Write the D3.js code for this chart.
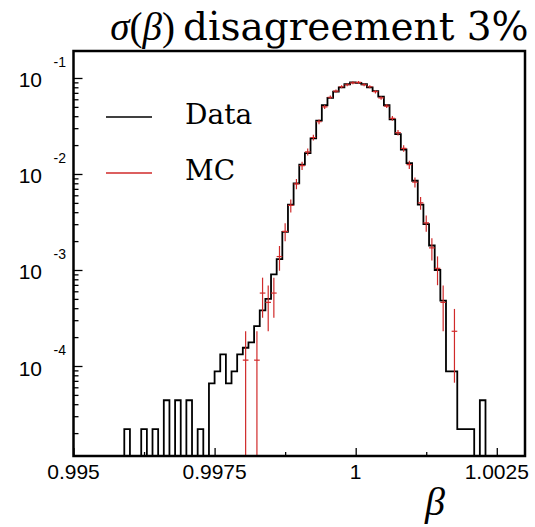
<!DOCTYPE html>
<html><head><meta charset="utf-8">
<script src="https://cdn.jsdelivr.net/npm/d3@7/dist/d3.min.js"></script>
<style>body{margin:0;background:#fff} svg{display:block}</style>
</head><body><svg id="c" width="535" height="527"></svg>
<script>
// ---- data (normalised histograms, 80 bins of width 0.0001 from 0.995) ----
const binLow = 0.995;
const binWidth = 0.0001;
const dataValues = [
  0,0,0,0,0,0,0,0,0,2.2e-5,
  0,0,2.2e-5,0,2.2e-5,0,4.4e-5,0,4.4e-5,0,
  4.4e-5,0,2.2e-5,0,6.6e-5,8.8e-5,1.32e-4,6.6e-5,8.8e-5,1.32e-4,
  1.55e-4,1.76e-4,2.6e-4,3.8e-4,5.0e-4,9.0e-4,1.3e-3,2.5e-3,4.8e-3,8.0e-3,
  1.25e-2,1.65e-2,2.35e-2,3.6e-2,5.2e-2,6.2e-2,7.2e-2,8.0e-2,8.6e-2,9.0e-2,
  8.9e-2,8.6e-2,8.0e-2,7.3e-2,6.4e-2,5.2e-2,3.7e-2,2.6e-2,1.8e-2,1.3e-2,
  8.5e-3,4.8e-3,3.0e-3,1.8e-3,1.0e-3,4.8e-4,8.8e-5,8.8e-5,2.2e-5,2.2e-5,
  2.2e-5,0,4.4e-5,0,0,0,0,0,0,0
];
const mcValues = [
  0,0,0,0,0,0,0,0,0,0,
  0,0,0,0,0,0,0,0,0,0,
  0,0,0,0,0,0,0,0,0,0,
  1.15e-4,0,1.15e-4,5.75e-4,4.6e-4,5.75e-4,1.38e-3,2.53e-3,4.7e-3,7.9e-3,
  1.22e-2,1.7e-2,2.4e-2,3.5e-2,5.0e-2,6.3e-2,7.3e-2,8.1e-2,8.5e-2,8.9e-2,
  9.0e-2,8.5e-2,8.1e-2,7.2e-2,6.2e-2,5.1e-2,3.8e-2,2.7e-2,1.85e-2,1.25e-2,
  8.2e-3,5.0e-3,3.1e-3,1.7e-3,1.04e-3,4.6e-4,0,2.3e-4,0,0,
  0,0,0,0,0,0,0,0,0,0
];
const mcErrors = [
  0,0,0,0,0,0,0,0,0,0,
  0,0,0,0,0,0,0,0,0,0,
  0,0,0,0,0,0,0,0,0,0,
  1.15e-4,0,1.15e-4,2.57e-4,2.3e-4,2.57e-4,3.98e-4,5.39e-4,7.35e-4,9.5e-4,
  1.18e-3,1.40e-3,1.66e-3,2.0e-3,2.4e-3,2.69e-3,2.9e-3,3.05e-3,3.13e-3,3.2e-3,
  3.22e-3,3.13e-3,3.05e-3,2.88e-3,2.67e-3,2.42e-3,2.09e-3,1.76e-3,1.46e-3,1.2e-3,
  9.7e-4,7.6e-4,5.97e-4,4.42e-4,3.46e-4,2.3e-4,0,1.63e-4,0,0,
  0,0,0,0,0,0,0,0,0,0
];
const xMajorTicks = [0.995, 0.9975, 1, 1.0025];
const xTickLabels = ["0.995", "0.9975", "1", "1.0025"];
const xMinorTicks = [0.99625, 0.99875, 1.00125];
const yDecades = [1e-1, 1e-2, 1e-3, 1e-4];
const yExponents = ["-1", "-2", "-3", "-4"];
const legendLabels = ["Data", "MC"];
const titleMath = ["σ", "(", "β", ")"];
const titleText = "disagreement 3%";
const xTitle = "β";

// ---- layout ----
const L = 73.5, R = 525, T = 51, B = 456;
const x = d3.scaleLinear().domain([0.995, 1.003]).range([L, R]);
const y = d3.scaleLog().domain([1.155e-5, 0.191]).range([B, T]);
const yFloor = y.domain()[0];
const svg = d3.select("#c");
const red = "#d02a2a";

svg.append("rect").attr("width", 535).attr("height", 527).attr("fill", "#fff");
svg.append("clipPath").attr("id", "clip").append("rect")
  .attr("x", L).attr("y", T).attr("width", R - L).attr("height", B - T);

// ---- axes ticks ----
const yMinor = [];
for (let e = -5; e <= -1; e++) for (let m = 2; m <= 9; m++) {
  const v = m * Math.pow(10, e);
  if (v > yFloor && v < y.domain()[1]) yMinor.push(v);
}
const gy1 = svg.append("g").attr("transform", `translate(${L},0)`)
  .call(d3.axisLeft(y).tickValues(yMinor).tickSize(-5).tickFormat(""));
const gy2 = svg.append("g").attr("transform", `translate(${L},0)`)
  .call(d3.axisLeft(y).tickValues(yDecades).tickSize(-9).tickFormat(""));
const gx1 = svg.append("g").attr("transform", `translate(0,${B})`)
  .call(d3.axisBottom(x).tickValues(xMajorTicks).tickSize(-8).tickFormat(""));
const gx2 = svg.append("g").attr("transform", `translate(0,${B})`)
  .call(d3.axisBottom(x).tickValues(xMinorTicks).tickSize(-4).tickFormat(""));
[gy1, gy2, gx1, gx2].forEach(g => {
  g.select(".domain").remove();
  g.selectAll(".tick line").attr("stroke", "#000").attr("stroke-width", 1.3);
});

// ---- Data histogram ----
const plot = svg.append("g").attr("clip-path", "url(#clip)");
const pts = dataValues.map((v, k) => [x(binLow + k * binWidth), y(Math.max(v, yFloor))]);
pts.push([x(binLow + dataValues.length * binWidth), y(Math.max(dataValues[dataValues.length - 1], yFloor))]);
plot.append("path")
  .attr("d", d3.line().curve(d3.curveStepAfter)(pts))
  .attr("fill", "none").attr("stroke", "#000").attr("stroke-width", 1.8);

// ---- MC points with errors ----
mcValues.forEach((v, k) => {
  if (v <= 0) return;
  const x0 = x(binLow + k * binWidth), x1 = x(binLow + (k + 1) * binWidth);
  const xc = (x0 + x1) / 2;
  const e = mcErrors[k];
  plot.append("line").attr("x1", x0).attr("x2", x1).attr("y1", y(v)).attr("y2", y(v))
    .attr("stroke", red).attr("stroke-width", 1.2);
  plot.append("line").attr("x1", xc).attr("x2", xc)
    .attr("y1", y(v + e)).attr("y2", y(Math.max(v - e, yFloor)))
    .attr("stroke", red).attr("stroke-width", 1.2);
});

// ---- frame ----
svg.append("rect").attr("x", L).attr("y", T).attr("width", R - L).attr("height", B - T)
  .attr("fill", "none").attr("stroke", "#000").attr("stroke-width", 2.5);

// ---- y labels ----
yDecades.forEach((v, i) => {
  svg.append("text").attr("x", 42).attr("y", y(v) + 2).attr("text-anchor", "end")
    .attr("dominant-baseline", "central")
    .attr("font-family", "Liberation Sans, Arial, sans-serif").attr("font-size", 21)
    .text("10");
  svg.append("text").attr("x", 66).attr("y", y(v) - 16).attr("text-anchor", "end")
    .attr("dominant-baseline", "central")
    .attr("font-family", "Liberation Sans, Arial, sans-serif").attr("font-size", 14)
    .text(yExponents[i]);
});

// ---- x labels ----
xMajorTicks.forEach((v, i) => {
  svg.append("text").attr("x", x(v)).attr("y", 479).attr("text-anchor", "middle")
    .attr("font-family", "Liberation Sans, Arial, sans-serif").attr("font-size", 21)
    .text(xTickLabels[i]);
});
svg.append("text").attr("x", 435).attr("y", 515).attr("text-anchor", "middle")
  .attr("font-family", "Liberation Serif, serif").attr("font-style", "italic")
  .attr("font-size", 40).text(xTitle);

// ---- title ----
const tm = svg.append("text").attr("x", 175).attr("y", 40).attr("text-anchor", "end")
  .attr("font-family", "Liberation Serif, serif").attr("font-size", 39);
titleMath.forEach((s, i) => tm.append("tspan")
  .attr("font-style", (s === "σ" || s === "β") ? "italic" : "normal").text(s));
svg.append("text").attr("x", 183).attr("y", 40)
  .attr("font-family", "DejaVu Serif, serif").attr("font-size", 39).text(titleText);

// ---- legend ----
const legColors = ["#000", red];
const legY = [117, 173];
legendLabels.forEach((lab, i) => {
  svg.append("line").attr("x1", 106).attr("x2", 152).attr("y1", legY[i]).attr("y2", legY[i])
    .attr("stroke", legColors[i]).attr("stroke-width", 1.3);
  svg.append("text").attr("x", 185).attr("y", legY[i] + 7)
    .attr("font-family", "DejaVu Serif, serif").attr("font-size", 28).text(lab);
});
</script></body></html>
